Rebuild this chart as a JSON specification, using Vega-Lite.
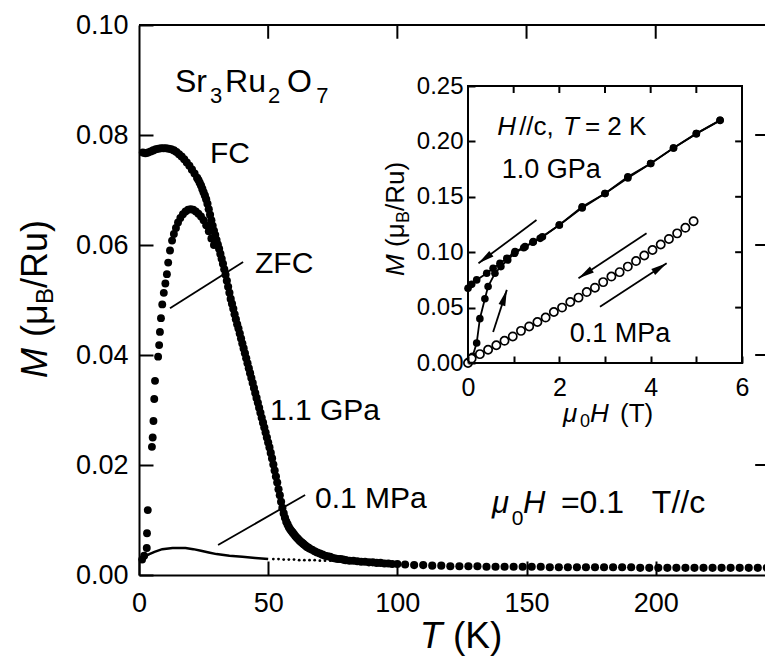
{
  "$schema": "https://vega.github.io/schema/vega-lite/v6.json",
  "width": 626,
  "height": 550,
  "autosize": {"type": "none"},
  "padding": {"left": 139, "top": 25, "right": 0, "bottom": 87},
  "background": "white",
  "view": {"stroke": null},
  "config": {
    "font": "Liberation Sans",
    "axis": {"grid": false, "domainColor": "black", "domainWidth": 2, "tickColor": "black", "tickWidth": 2, "labelColor": "black", "labelFont": "Liberation Sans", "labelFlush": false, "labelOverlap": false},
    "text": {"font": "Liberation Sans", "color": "black"}
  },
  "datasets": {
    "fc": [
      {"T":1.5,"M":0.0768},{"T":2.5,"M":0.0767},{"T":3.5,"M":0.0768},{"T":4.5,"M":0.077},{"T":5.5,"M":0.0772},{"T":6.5,"M":0.0774},{"T":7.5,"M":0.0775},{"T":8.5,"M":0.0776},{"T":9.5,"M":0.0776},{"T":10.5,"M":0.0776},{"T":11.5,"M":0.0775},{"T":12.5,"M":0.0774},{"T":13.5,"M":0.0772},{"T":14.5,"M":0.0769},{"T":15.5,"M":0.0765},{"T":16.5,"M":0.0761},{"T":17.5,"M":0.0756},{"T":18.5,"M":0.075},{"T":19.5,"M":0.0744},{"T":20.5,"M":0.0737},{"T":21.5,"M":0.073},{"T":22.5,"M":0.0722},
      {"T":23,"M":0.0718},{"T":23.5,"M":0.0713},{"T":24,"M":0.0708},{"T":24.5,"M":0.0702},{"T":25,"M":0.0696},{"T":25.5,"M":0.069},{"T":26,"M":0.0683},{"T":26.5,"M":0.0675},{"T":27,"M":0.0665},{"T":27.5,"M":0.0655},{"T":28,"M":0.0645},{"T":28.5,"M":0.0635},{"T":29,"M":0.0626},{"T":29.5,"M":0.0618},{"T":30,"M":0.0609},{"T":30.5,"M":0.0601},{"T":31,"M":0.0593},{"T":31.5,"M":0.0584},{"T":32,"M":0.0575},{"T":32.5,"M":0.0566},{"T":33,"M":0.0556},{"T":33.5,"M":0.0546},{"T":34,"M":0.0535},{"T":34.5,"M":0.0524},{"T":35,"M":0.0513},{"T":35.5,"M":0.0502},{"T":36,"M":0.0493},{"T":36.5,"M":0.0484},{"T":37,"M":0.0474},{"T":37.5,"M":0.0465},{"T":38,"M":0.0456},{"T":38.5,"M":0.0448},{"T":39,"M":0.0439},{"T":39.5,"M":0.043},{"T":40,"M":0.0421},{"T":40.5,"M":0.0412},{"T":41,"M":0.0403},{"T":41.5,"M":0.0394},{"T":42,"M":0.0385},{"T":42.5,"M":0.0376},{"T":43,"M":0.0367},{"T":43.5,"M":0.0358},{"T":44,"M":0.0349},{"T":44.5,"M":0.034},{"T":45,"M":0.0331},{"T":45.5,"M":0.0322},{"T":46,"M":0.0313},{"T":46.5,"M":0.0304},{"T":47,"M":0.0295},{"T":47.5,"M":0.0286},{"T":48,"M":0.0277},{"T":48.5,"M":0.0268},{"T":49,"M":0.0259},{"T":49.5,"M":0.025},{"T":50,"M":0.0241},{"T":50.5,"M":0.0232},{"T":51,"M":0.0222},{"T":51.5,"M":0.0212},{"T":52,"M":0.0201},{"T":52.5,"M":0.019},{"T":53,"M":0.0179},{"T":53.5,"M":0.0168},{"T":54,"M":0.0156},{"T":54.5,"M":0.0145},{"T":55,"M":0.0133},{"T":55.5,"M":0.0122},{"T":56,"M":0.0112},{"T":56.5,"M":0.0104},{"T":57,"M":0.0097},{"T":57.5,"M":0.0092},{"T":58,"M":0.0087},{"T":58.5,"M":0.0083},{"T":59,"M":0.008},{"T":59.5,"M":0.0077},{"T":60,"M":0.0074},{"T":60.5,"M":0.0071},{"T":61,"M":0.0068},{"T":61.5,"M":0.0066},{"T":62,"M":0.0063},{"T":62.5,"M":0.0061},{"T":63,"M":0.0059},{"T":63.5,"M":0.0057},{"T":64,"M":0.0055},{"T":64.5,"M":0.0053},{"T":65,"M":0.0051},{"T":65.5,"M":0.005},
      {"T":66,"M":0.0048},{"T":67,"M":0.0046},{"T":68,"M":0.0043},{"T":69,"M":0.0041},{"T":70,"M":0.0039},{"T":71,"M":0.0037},{"T":72,"M":0.0035},{"T":73,"M":0.0034},{"T":74,"M":0.0033},{"T":75,"M":0.0031},{"T":76,"M":0.003},{"T":77,"M":0.0029},{"T":78,"M":0.0029},{"T":79,"M":0.0028},{"T":80,"M":0.0027},{"T":81.5,"M":0.0026},{"T":83,"M":0.0026},{"T":84.5,"M":0.0025},{"T":86,"M":0.0024},{"T":87.5,"M":0.0024},{"T":89,"M":0.0023},{"T":90.5,"M":0.0023},{"T":92,"M":0.0022},{"T":93.5,"M":0.0022},{"T":95,"M":0.0021},{"T":96.5,"M":0.0021},{"T":98,"M":0.002},{"T":100,"M":0.002},
      {"T":103,"M":0.0019},{"T":106.5,"M":0.0018},{"T":110,"M":0.0018},{"T":113.5,"M":0.0017},{"T":117,"M":0.0017},{"T":120.5,"M":0.0016},{"T":124,"M":0.0016},{"T":127.5,"M":0.0016},{"T":131,"M":0.0016},{"T":134.5,"M":0.0015},{"T":138,"M":0.0015},{"T":141.5,"M":0.0015},{"T":145,"M":0.0015},{"T":148.5,"M":0.0015},{"T":152,"M":0.0015},{"T":155.5,"M":0.0015},{"T":159,"M":0.0014},{"T":162.5,"M":0.0014},{"T":166,"M":0.0014},{"T":169.5,"M":0.0014},{"T":173,"M":0.0014},{"T":176.5,"M":0.0014},{"T":180,"M":0.0014},{"T":183.5,"M":0.0014},{"T":187,"M":0.0014},{"T":190.5,"M":0.0014},{"T":194,"M":0.0013},{"T":197.5,"M":0.0013},{"T":201,"M":0.0013},{"T":204.5,"M":0.0013},{"T":208,"M":0.0013},{"T":211.5,"M":0.0013},{"T":215,"M":0.0013},{"T":218.5,"M":0.0013},{"T":222,"M":0.0013},{"T":225.5,"M":0.0013},{"T":229,"M":0.0013},{"T":232.5,"M":0.0013},{"T":236,"M":0.0013},{"T":239.5,"M":0.0013},{"T":243,"M":0.0013}
    ],
    "zfc": [
      {"T":1.2,"M":0.0028},{"T":2.0,"M":0.0035},{"T":3.0,"M":0.0049},{"T":3.1,"M":0.0076},{"T":3.4,"M":0.0118},{"T":5.0,"M":0.0233},{"T":5.3,"M":0.025},{"T":5.6,"M":0.028},{"T":5.9,"M":0.032},{"T":6.2,"M":0.0353},{"T":7.4,"M":0.0397},{"T":7.8,"M":0.0418},{"T":8.1,"M":0.0442},{"T":8.5,"M":0.0467},{"T":9.0,"M":0.0492},{"T":9.6,"M":0.0513},{"T":10.2,"M":0.053},{"T":10.8,"M":0.0547},{"T":11.3,"M":0.0568},{"T":12.0,"M":0.059},{"T":12.8,"M":0.0608},{"T":13.5,"M":0.062},{"T":14.3,"M":0.0631},{"T":15.1,"M":0.0641},{"T":16.0,"M":0.0649},{"T":17.0,"M":0.0656},{"T":18.0,"M":0.0661},{"T":19.0,"M":0.0664},{"T":20.0,"M":0.0665},{"T":21.0,"M":0.0664},{"T":22.0,"M":0.0661},{"T":23.0,"M":0.0657},{"T":24.0,"M":0.0652},{"T":25.0,"M":0.0645},{"T":26.0,"M":0.0636},{"T":27.0,"M":0.0625},{"T":28.0,"M":0.0612},{"T":29.0,"M":0.06}
    ],
    "lp": [
      {"T":0.5,"M":0.003},{"T":1,"M":0.0031},{"T":2,"M":0.0033},{"T":4,"M":0.0038},{"T":6,"M":0.0042},{"T":9,"M":0.0047},{"T":13,"M":0.0049},{"T":18,"M":0.0049},{"T":21,"M":0.0047},{"T":24,"M":0.0044},{"T":27,"M":0.0041},{"T":30,"M":0.0038},{"T":35,"M":0.0035},{"T":40,"M":0.0033},{"T":45,"M":0.0031},{"T":50,"M":0.0029}
    ],
    "lpd": [
      {"T":52,"M":0.0029},{"T":54,"M":0.0029},{"T":56,"M":0.0028},{"T":58,"M":0.0028},{"T":60,"M":0.0028},{"T":62,"M":0.0027},{"T":64,"M":0.0027},{"T":66,"M":0.0027},{"T":68,"M":0.0027},{"T":70,"M":0.0026},{"T":72,"M":0.0026},{"T":74,"M":0.0026},{"T":76,"M":0.0026},{"T":78,"M":0.0025},{"T":80,"M":0.0025},{"T":82,"M":0.0025},{"T":84,"M":0.0025},{"T":86,"M":0.0024},{"T":88,"M":0.0024},{"T":90,"M":0.0024},{"T":92,"M":0.0024},{"T":94,"M":0.0024},{"T":96,"M":0.0023},{"T":98,"M":0.0023},{"T":100,"M":0.0023}
    ],
    "leaders": [
      {"T":12,"M":0.0485,"T2":40.3,"M2":0.0569},
      {"T":30.6,"M":0.00545,"T2":64.3,"M2":0.01455}
    ],
    "topBorder": [{"T":0,"T2":242.3,"M":0.1}],
    "topTicks": [{"T":50,"M":0.1,"M2":0.0975},{"T":100,"M":0.1,"M2":0.0975},{"T":150,"M":0.1,"M2":0.0975},{"T":200,"M":0.1,"M2":0.0975}],
    "rightTicks": [{"T":238.5,"T2":242.3,"M":0.02},{"T":238.5,"T2":242.3,"M":0.04},{"T":238.5,"T2":242.3,"M":0.06},{"T":238.5,"T2":242.3,"M":0.08}],
    "mainReg": [
      {"label":"FC","T":27.5,"M":0.0749},
      {"label":"ZFC","T":44.9,"M":0.0549},
      {"label":"1.1 GPa","T":50.7,"M":0.0282},
      {"label":"0.1 MPa","T":68.1,"M":0.0122}
    ],
    "mainEq": [{"label":"=0.1","T":163.3,"M":0.01127},{"label":"T//c","T":198.5,"M":0.01127}],
    "mainItal": [{"label":"μ","T":136.6,"M":0.01127},{"label":"H","T":148.6,"M":0.01127}],
    "mainSub": [{"label":"0","T":144.3,"M":0.0091}],
    "formula": [{"label":"Sr","T":13.9,"M":0.0878},{"label":"Ru","T":33.3,"M":0.0878},{"label":"O","T":57.3,"M":0.0878}],
    "formulaSub": [{"label":"3","T":27.5,"M":0.0858},{"label":"2","T":49.9,"M":0.0858},{"label":"7","T":68.6,"M":0.0858}],
    "xTitleItal": [{"label":"T","T":108.7,"M":-0.01327}],
    "xTitleReg": [{"label":"(K)","T":121.5,"M":-0.01327}],
    "yTitleItal": [{"label":"M","T":-35.6,"M":0.03582}],
    "yTitleReg": [{"label":"(μ","T":-35.6,"M":0.04327},{"label":"/Ru)","T":-35.6,"M":0.05218}],
    "yTitleSub": [{"label":"B","T":-33.3,"M":0.04927}],
    "insetFrame": [{"H":0,"H2":6,"Mi":0,"Mi2":0.25}],
    "gpa": [
      {"branch":"up","o":1,"H":0,"Mi":0.001},{"branch":"up","o":2,"H":0.1,"Mi":0.006},{"branch":"up","o":3,"H":0.19,"Mi":0.018},{"branch":"up","o":4,"H":0.26,"Mi":0.04},{"branch":"up","o":5,"H":0.37,"Mi":0.058},{"branch":"up","o":6,"H":0.44,"Mi":0.069},{"branch":"up","o":7,"H":0.59,"Mi":0.081},{"branch":"up","o":8,"H":0.72,"Mi":0.087},{"branch":"up","o":9,"H":0.87,"Mi":0.093},{"branch":"up","o":10,"H":1.02,"Mi":0.099},{"branch":"up","o":11,"H":1.22,"Mi":0.104},{"branch":"up","o":12,"H":1.42,"Mi":0.109},{"branch":"up","o":13,"H":1.63,"Mi":0.114},{"branch":"up","o":14,"H":2.0,"Mi":0.1245},{"branch":"up","o":15,"H":2.5,"Mi":0.14},{"branch":"up","o":16,"H":3.0,"Mi":0.153},{"branch":"up","o":17,"H":3.5,"Mi":0.167},{"branch":"up","o":18,"H":4.0,"Mi":0.18},{"branch":"up","o":19,"H":4.5,"Mi":0.194},{"branch":"up","o":20,"H":5.0,"Mi":0.207},{"branch":"up","o":21,"H":5.52,"Mi":0.219},
      {"branch":"down","o":1,"H":5.52,"Mi":0.219},{"branch":"down","o":2,"H":5.0,"Mi":0.207},{"branch":"down","o":3,"H":4.5,"Mi":0.194},{"branch":"down","o":4,"H":4.0,"Mi":0.18},{"branch":"down","o":5,"H":3.5,"Mi":0.168},{"branch":"down","o":6,"H":3.0,"Mi":0.153},{"branch":"down","o":7,"H":2.5,"Mi":0.141},{"branch":"down","o":8,"H":2.0,"Mi":0.1245},{"branch":"down","o":9,"H":1.58,"Mi":0.1125},{"branch":"down","o":10,"H":1.43,"Mi":0.1095},{"branch":"down","o":11,"H":1.25,"Mi":0.105},{"branch":"down","o":12,"H":1.03,"Mi":0.1005},{"branch":"down","o":13,"H":0.85,"Mi":0.0945},{"branch":"down","o":14,"H":0.7,"Mi":0.09},{"branch":"down","o":15,"H":0.55,"Mi":0.0855},{"branch":"down","o":16,"H":0.41,"Mi":0.081},{"branch":"down","o":17,"H":0.19,"Mi":0.075},{"branch":"down","o":18,"H":0.08,"Mi":0.071},{"branch":"down","o":19,"H":0,"Mi":0.0674}
    ],
    "mpa": [
      {"H":0,"Mi":0.0},{"H":0.08,"Mi":0.004},{"H":0.26,"Mi":0.008},{"H":0.44,"Mi":0.012},{"H":0.62,"Mi":0.016},{"H":0.8,"Mi":0.02},{"H":0.98,"Mi":0.024},{"H":1.16,"Mi":0.029},{"H":1.34,"Mi":0.033},{"H":1.52,"Mi":0.037},{"H":1.7,"Mi":0.041},{"H":1.88,"Mi":0.046},{"H":2.06,"Mi":0.05},{"H":2.24,"Mi":0.055},{"H":2.42,"Mi":0.059},{"H":2.6,"Mi":0.064},{"H":2.78,"Mi":0.068},{"H":2.96,"Mi":0.073},{"H":3.14,"Mi":0.078},{"H":3.32,"Mi":0.082},{"H":3.5,"Mi":0.087},{"H":3.68,"Mi":0.092},{"H":3.86,"Mi":0.097},{"H":4.04,"Mi":0.102},{"H":4.22,"Mi":0.107},{"H":4.4,"Mi":0.112},{"H":4.58,"Mi":0.117},{"H":4.76,"Mi":0.122},{"H":4.94,"Mi":0.128}
    ],
    "arrows": [
      {"id":"A","H":1.5,"Mi":0.129,"H2":0.23,"Mi2":0.09},
      {"id":"B","H":0.55,"Mi":0.028,"H2":0.85,"Mi2":0.066},
      {"id":"C","H":3.91,"Mi":0.117,"H2":2.42,"Mi2":0.0765},
      {"id":"D","H":2.89,"Mi":0.0508,"H2":4.35,"Mi2":0.09}
    ],
    "insetTopTicks": [{"H":1,"Mi":0.25,"Mi2":0.2437},{"H":2,"Mi":0.25,"Mi2":0.2437},{"H":3,"Mi":0.25,"Mi2":0.2437},{"H":4,"Mi":0.25,"Mi2":0.2437},{"H":5,"Mi":0.25,"Mi2":0.2437}],
    "insetRightTicks": [{"H":5.85,"H2":6,"Mi":0.05},{"H":5.85,"H2":6,"Mi":0.1},{"H":5.85,"H2":6,"Mi":0.15},{"H":5.85,"H2":6,"Mi":0.2}],
    "insetReg": [{"label":"//c,","H":1.12,"Mi":0.2058},{"label":"= 2 K","H":2.56,"Mi":0.2058},{"label":"(T)","H":3.33,"Mi":-0.0535}],
    "insetItal": [{"label":"H","H":0.64,"Mi":0.2058},{"label":"T","H":2.08,"Mi":0.2058},{"label":"μ","H":2.08,"Mi":-0.0535},{"label":"H","H":2.67,"Mi":-0.0535}],
    "insetSub": [{"label":"0","H":2.45,"Mi":-0.058}],
    "insetLabels": [{"label":"1.0 GPa","H":0.74,"Mi":0.167},{"label":"0.1 MPa","H":2.23,"Mi":0.019}],
    "insetYItal": [{"label":"M","H":-1.4,"Mi":0.0785}],
    "insetYReg": [{"label":"(μ","H":-1.4,"Mi":0.1047},{"label":"/Ru)","H":-1.4,"Mi":0.1372}],
    "insetYSub": [{"label":"B","H":-1.29,"Mi":0.1264}]
  },
  "layer": [
    {
      "encoding": {
        "x": {"field": "T", "type": "quantitative", "scale": {"domain": [0, 242.3], "nice": false},
              "axis": {"orient": "bottom", "values": [0, 50, 100, 150, 200], "tickSize": -14, "labelPadding": 29, "labelFontSize": 27, "title": null}},
        "y": {"field": "M", "type": "quantitative", "scale": {"domain": [0, 0.1], "nice": false},
              "axis": {"orient": "left", "values": [0, 0.02, 0.04, 0.06, 0.08, 0.1], "format": ".2f", "tickSize": -14, "labelPadding": 25, "labelFontSize": 27, "title": null}}
      },
      "layer": [
        {"data": {"name": "topBorder"}, "mark": {"type": "rule", "color": "black", "strokeWidth": 2},
         "encoding": {"x2": {"field": "T2"}}},
        {"data": {"name": "topTicks"}, "mark": {"type": "rule", "color": "black", "strokeWidth": 2},
         "encoding": {"y2": {"field": "M2"}}},
        {"data": {"name": "rightTicks"}, "mark": {"type": "rule", "color": "black", "strokeWidth": 2},
         "encoding": {"x2": {"field": "T2"}}},
        {"data": {"name": "lp"}, "mark": {"type": "line", "color": "black", "strokeWidth": 2.5}},
        {"data": {"name": "lpd"}, "mark": {"type": "circle", "color": "black", "size": 8, "opacity": 1}},
        {"data": {"name": "fc"}, "mark": {"type": "circle", "color": "black", "size": 66, "opacity": 1}},
        {"data": {"name": "zfc"}, "mark": {"type": "circle", "color": "black", "size": 62, "opacity": 1}},
        {"data": {"name": "leaders"}, "mark": {"type": "rule", "color": "black", "strokeWidth": 1.8},
         "encoding": {"x2": {"field": "T2"}, "y2": {"field": "M2"}}},
        {"data": {"name": "mainReg"}, "mark": {"type": "text", "fontSize": 30, "align": "left", "baseline": "alphabetic"}, "encoding": {"text": {"field": "label"}}},
        {"data": {"name": "mainEq"}, "mark": {"type": "text", "fontSize": 32, "align": "left", "baseline": "alphabetic"}, "encoding": {"text": {"field": "label"}}},
        {"data": {"name": "mainItal"}, "mark": {"type": "text", "fontSize": 31, "fontStyle": "italic", "align": "left", "baseline": "alphabetic"}, "encoding": {"text": {"field": "label"}}},
        {"data": {"name": "mainSub"}, "mark": {"type": "text", "fontSize": 21, "align": "left", "baseline": "alphabetic"}, "encoding": {"text": {"field": "label"}}},
        {"data": {"name": "formula"}, "mark": {"type": "text", "fontSize": 32, "align": "left", "baseline": "alphabetic"}, "encoding": {"text": {"field": "label"}}},
        {"data": {"name": "formulaSub"}, "mark": {"type": "text", "fontSize": 22, "align": "left", "baseline": "alphabetic"}, "encoding": {"text": {"field": "label"}}},
        {"data": {"name": "xTitleItal"}, "mark": {"type": "text", "fontSize": 37, "fontStyle": "italic", "align": "left", "baseline": "alphabetic"}, "encoding": {"text": {"field": "label"}}},
        {"data": {"name": "xTitleReg"}, "mark": {"type": "text", "fontSize": 37, "align": "left", "baseline": "alphabetic"}, "encoding": {"text": {"field": "label"}}},
        {"data": {"name": "yTitleItal"}, "mark": {"type": "text", "fontSize": 36, "fontStyle": "italic", "angle": 270, "align": "left", "baseline": "alphabetic"}, "encoding": {"text": {"field": "label"}}},
        {"data": {"name": "yTitleReg"}, "mark": {"type": "text", "fontSize": 36, "angle": 270, "align": "left", "baseline": "alphabetic"}, "encoding": {"text": {"field": "label"}}},
        {"data": {"name": "yTitleSub"}, "mark": {"type": "text", "fontSize": 24, "angle": 270, "align": "left", "baseline": "alphabetic"}, "encoding": {"text": {"field": "label"}}}
      ]
    },
    {
      "encoding": {
        "x": {"field": "H", "type": "quantitative", "scale": {"domain": [0, 6], "range": [329, 603], "nice": false},
              "axis": {"orient": "bottom", "offset": -212, "zindex": 2, "values": [0, 1, 2, 3, 4, 5, 6], "labelExpr": "datum.value % 2 == 0 ? datum.label : ''", "tickSize": -7, "labelPadding": 19, "labelFontSize": 25, "domain": false, "title": null}},
        "y": {"field": "Mi", "type": "quantitative", "scale": {"domain": [0, 0.25], "range": [338, 61], "nice": false},
              "axis": {"orient": "left", "offset": -329, "zindex": 2, "values": [0, 0.05, 0.1, 0.15, 0.2, 0.25], "format": ".2f", "tickSize": -7, "labelPadding": 12, "labelFontSize": 24, "domain": false, "title": null}}
      },
      "layer": [
        {"data": {"name": "insetFrame"}, "mark": {"type": "rect", "fill": "white", "stroke": "black", "strokeWidth": 2},
         "encoding": {"x2": {"field": "H2"}, "y2": {"field": "Mi2"}}},
        {"data": {"name": "insetTopTicks"}, "mark": {"type": "rule", "color": "black", "strokeWidth": 2},
         "encoding": {"y2": {"field": "Mi2"}}},
        {"data": {"name": "insetRightTicks"}, "mark": {"type": "rule", "color": "black", "strokeWidth": 2},
         "encoding": {"x2": {"field": "H2"}}},
        {"data": {"name": "gpa"}, "mark": {"type": "line", "color": "black", "strokeWidth": 1.8},
         "encoding": {"detail": {"field": "branch"}, "order": {"field": "o", "type": "quantitative"}}},
        {"data": {"name": "gpa"}, "mark": {"type": "circle", "color": "black", "size": 58, "opacity": 1}},
        {"data": {"name": "mpa"}, "mark": {"type": "point", "shape": "circle", "color": "black", "fill": "white", "filled": false, "strokeWidth": 1.7, "size": 68, "opacity": 1}},
        {"data": {"name": "arrows"}, "mark": {"type": "rule", "color": "black", "strokeWidth": 1.8},
         "encoding": {"x2": {"field": "H2"}, "y2": {"field": "Mi2"}}},
        {"data": {"name": "arrows"}, "transform": [{"filter": "datum.id == 'A'"}], "mark": {"type": "point", "shape": "M0,0L-0.7,3.2L0.7,3.2Z", "filled": true, "color": "black", "size": 100, "opacity": 1, "angle": 233.4},
         "encoding": {"x": {"field": "H2", "type": "quantitative"}, "y": {"field": "Mi2", "type": "quantitative"}}},
        {"data": {"name": "arrows"}, "transform": [{"filter": "datum.id == 'B'"}], "mark": {"type": "point", "shape": "M0,0L-0.7,3.2L0.7,3.2Z", "filled": true, "color": "black", "size": 100, "opacity": 1, "angle": 17.8},
         "encoding": {"x": {"field": "H2", "type": "quantitative"}, "y": {"field": "Mi2", "type": "quantitative"}}},
        {"data": {"name": "arrows"}, "transform": [{"filter": "datum.id == 'C'"}], "mark": {"type": "point", "shape": "M0,0L-0.7,3.2L0.7,3.2Z", "filled": true, "color": "black", "size": 100, "opacity": 1, "angle": 236.7},
         "encoding": {"x": {"field": "H2", "type": "quantitative"}, "y": {"field": "Mi2", "type": "quantitative"}}},
        {"data": {"name": "arrows"}, "transform": [{"filter": "datum.id == 'D'"}], "mark": {"type": "point", "shape": "M0,0L-0.7,3.2L0.7,3.2Z", "filled": true, "color": "black", "size": 100, "opacity": 1, "angle": 56.9},
         "encoding": {"x": {"field": "H2", "type": "quantitative"}, "y": {"field": "Mi2", "type": "quantitative"}}},
        {"data": {"name": "insetReg"}, "mark": {"type": "text", "fontSize": 26, "align": "left", "baseline": "alphabetic"}, "encoding": {"text": {"field": "label"}}},
        {"data": {"name": "insetItal"}, "mark": {"type": "text", "fontSize": 26, "fontStyle": "italic", "align": "left", "baseline": "alphabetic"}, "encoding": {"text": {"field": "label"}}},
        {"data": {"name": "insetSub"}, "mark": {"type": "text", "fontSize": 18, "align": "left", "baseline": "alphabetic"}, "encoding": {"text": {"field": "label"}}},
        {"data": {"name": "insetLabels"}, "mark": {"type": "text", "fontSize": 27, "align": "left", "baseline": "alphabetic"}, "encoding": {"text": {"field": "label"}}},
        {"data": {"name": "insetYItal"}, "mark": {"type": "text", "fontSize": 26, "fontStyle": "italic", "angle": 270, "align": "left", "baseline": "alphabetic"}, "encoding": {"text": {"field": "label"}}},
        {"data": {"name": "insetYReg"}, "mark": {"type": "text", "fontSize": 26, "angle": 270, "align": "left", "baseline": "alphabetic"}, "encoding": {"text": {"field": "label"}}},
        {"data": {"name": "insetYSub"}, "mark": {"type": "text", "fontSize": 18, "angle": 270, "align": "left", "baseline": "alphabetic"}, "encoding": {"text": {"field": "label"}}}
      ]
    }
  ],
  "resolve": {"scale": {"x": "independent", "y": "independent"}}
}
